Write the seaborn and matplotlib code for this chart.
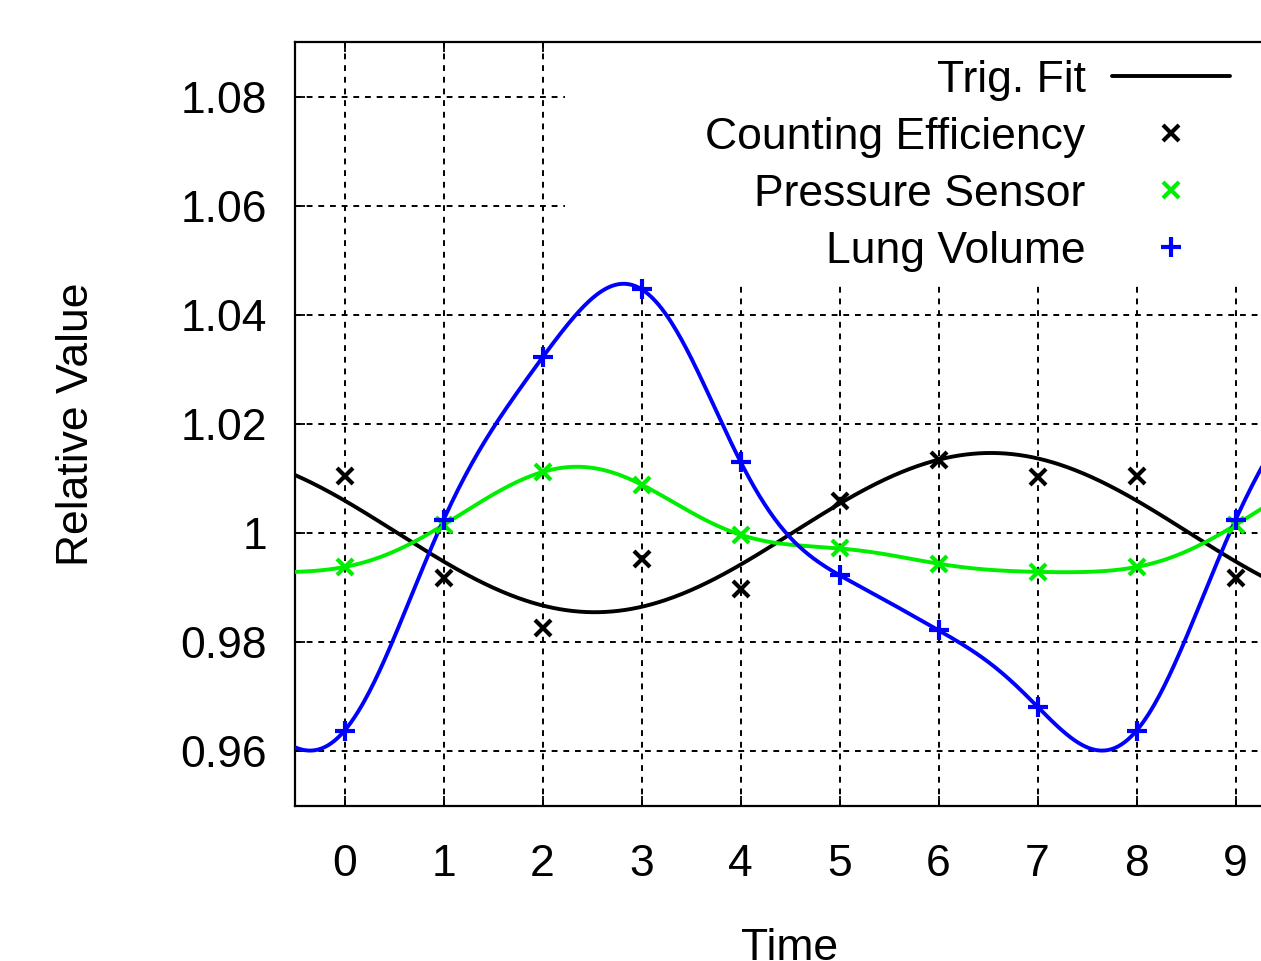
import numpy as np
import pandas as pd
import matplotlib
matplotlib.use("Agg")
import matplotlib.pyplot as plt
from matplotlib.patches import Rectangle
import seaborn as sns

# datos
tiempo = np.arange(10)
eficiencia = [1.0104, 0.9918, 0.9827, 0.9952, 0.9898, 1.0059, 1.0134, 1.0102, 1.0104, 0.9918]
presion = [0.9938, 1.0015, 1.0112, 1.0089, 0.9997, 0.9972, 0.9944, 0.9929, 0.9938, 1.0015]
pulmon = [0.9638, 1.0024, 1.0322, 1.0447, 1.0131, 0.9923, 0.9822, 0.9682, 0.9638, 1.0024]
periodo = 8
y_ticks = [0.96, 0.98, 1.00, 1.02, 1.04, 1.06, 1.08]
y_ticklabels = ["0.96", "0.98", "1", "1.02", "1.04", "1.06", "1.08"]


def ajuste_trig(x, y, orden, xs):
    # ajuste de Fourier por mínimos cuadrados con periodo fijo
    w = 2 * np.pi / periodo
    def base(t):
        cols = [np.ones_like(t, dtype=float)]
        for k in range(1, orden + 1):
            cols.append(np.cos(k * w * t))
            if k < periodo / 2:
                cols.append(np.sin(k * w * t))
        return np.column_stack(cols)
    coef, *_ = np.linalg.lstsq(base(np.asarray(x, float)), np.asarray(y), rcond=None)
    return base(xs) @ coef


xs = np.linspace(-0.5, 9.5, 600)
curvas = pd.DataFrame({
    "Time": xs,
    "fit": ajuste_trig(tiempo, eficiencia, 1, xs),
    "presion": ajuste_trig(tiempo, presion, 4, xs),
    "pulmon": ajuste_trig(tiempo, pulmon, 4, xs),
})

sns.set_theme(style="ticks")
plt.rcParams["font.family"] = ["Liberation Sans", "DejaVu Sans"]
plt.rcParams["font.size"] = 32
for k in ["text.color", "axes.labelcolor", "xtick.color", "ytick.color"]:
    plt.rcParams[k] = "black"

verde = "#00ee00"
azul = "#0000ff"

fig = plt.figure(figsize=(12.61, 9.61), dpi=100)
ax = fig.add_axes([295 / 1261, 1 - 806 / 961, 990 / 1261, 764 / 961])

ax.grid(True, color="black", linestyle=(0, (3, 3)), linewidth=1.4)
ax.set_axisbelow(True)
# fondo opaco de la leyenda
ax.add_patch(Rectangle((0.2727, 0.6846), 0.75, 0.32, transform=ax.transAxes,
                       facecolor="white", edgecolor="none", zorder=1))

sns.lineplot(data=curvas, x="Time", y="fit", color="black", linewidth=2.8,
             ax=ax, label="Trig. Fit", zorder=3)
sns.lineplot(data=curvas, x="Time", y="presion", color=verde, linewidth=2.8,
             ax=ax, zorder=3)
sns.lineplot(data=curvas, x="Time", y="pulmon", color=azul, linewidth=2.8,
             ax=ax, zorder=3)

ax.plot(tiempo, eficiencia, linestyle="", marker="x", color="black",
        markersize=11, markeredgewidth=3, label="Counting Efficiency", zorder=4)
ax.plot(tiempo, presion, linestyle="", marker="x", color=verde,
        markersize=11, markeredgewidth=3, label="Pressure Sensor", zorder=4)
ax.plot(tiempo, pulmon, linestyle="", marker="+", color=azul,
        markersize=15, markeredgewidth=3, label="Lung Volume", zorder=4)

ax.set_xlim(-0.5, 9.5)
ax.set_ylim(0.95, 1.09)
ax.set_xticks(tiempo)
ax.set_yticks(y_ticks)
ax.set_yticklabels(y_ticklabels)
ax.tick_params(direction="in", length=7, width=1.3, top=True, right=True,
               labelsize=32, color="black")
ax.tick_params(axis="x", pad=27)
ax.tick_params(axis="y", pad=20)
for s in ax.spines.values():
    s.set_linewidth(1.6)
    s.set_color("black")

ax.set_xlabel("Time", fontsize=32, labelpad=31)
ax.set_ylabel("Relative Value", fontsize=32, labelpad=60)

handles, labels = ax.get_legend_handles_labels()
leg = ax.legend(handles, labels, loc="upper right", bbox_to_anchor=(0.9444, 0.977),
                frameon=False, markerfirst=False, fontsize=32, handlelength=2.65,
                handletextpad=0.6, labelspacing=0.36, borderpad=0, borderaxespad=0)
leg.set_zorder(5)

fig.savefig("out.png", dpi=100)
